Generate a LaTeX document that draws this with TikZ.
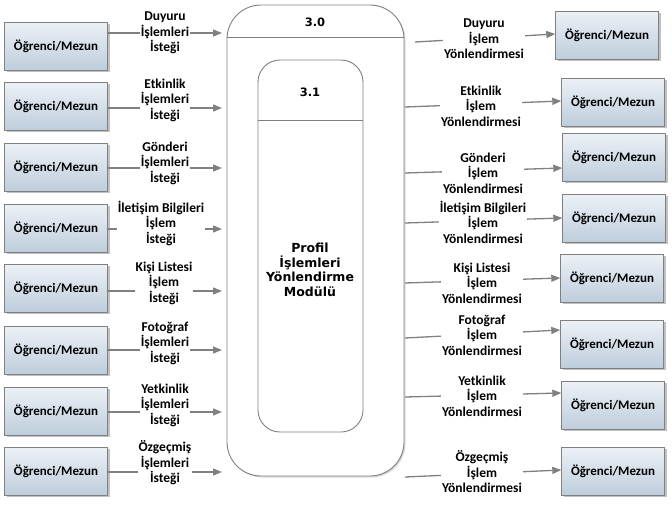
\documentclass[tikz,border=0pt]{standalone}
\usepackage{fontspec}
\setmainfont{Carlito}
\newfontfamily\procfont{DejaVu Sans}
\usetikzlibrary{arrows.meta,shadows}
\definecolor{linegray}{RGB}{128,128,128}
\definecolor{boxtop}{RGB}{236,241,246}
\definecolor{boxbottom}{RGB}{190,205,220}
\begin{document}
\begin{tikzpicture}[x=1pt,y=-1pt,
  actor/.style={draw=linegray,top color=boxtop,bottom color=boxbottom,minimum width=103pt,minimum height=48pt,
    font=\fontsize{13}{15}\selectfont\bfseries,
    drop shadow={shadow xshift=2pt,shadow yshift=-2pt,opacity=.35,fill=black!70}},
  proc/.style={draw=linegray,line width=.9pt,fill=white},
  proctext/.style={align=center,font=\procfont\bfseries\fontsize{11.5}{13.5}\selectfont},
  flow/.style={draw=linegray,line width=1.3pt,-{Triangle[length=9pt,width=7pt]}},
  flowlabel/.style={fill=white,inner sep=1pt,align=center,font=\fontsize{13.5}{15.5}\selectfont\bfseries}]

\useasboundingbox (0,0) rectangle (672,507);

% process 3.0 and 3.1
\draw (315.5,240.5) node(MAIN)[proc,minimum width=177pt,minimum height=471pt,rounded corners=34pt,
  drop shadow={shadow xshift=1.5pt,shadow yshift=-1.5pt,opacity=.3}]{};
\draw[linegray,line width=.9pt] (MAIN.west |- 0,37) -- (MAIN.east |- 0,37);
\draw (310.5,246) node(SUB)[proc,minimum width=105pt,minimum height=372pt,rounded corners=22pt]{};
\draw[linegray,line width=.9pt] (SUB.west |- 0,120) -- (SUB.east |- 0,120);
\draw (315,22) node(NUMMAIN)[proctext]{3.0};
\draw (310,92) node(NUMSUB)[proctext]{3.1};
\draw (310,270) node(NAMESUB)[proctext,font=\procfont\bfseries\fontsize{12.5}{14.5}\selectfont]{Profil\\İşlemleri\\Yönlendirme\\Modülü};

% sources
\draw (56,46) node(L1)[actor]{Öğrenci/Mezun};
\draw (56,106) node(L2)[actor]{Öğrenci/Mezun};
\draw (56,167) node(L3)[actor]{Öğrenci/Mezun};
\draw (56,228) node(L4)[actor]{Öğrenci/Mezun};
\draw (56,288) node(L5)[actor]{Öğrenci/Mezun};
\draw (56,350) node(L6)[actor]{Öğrenci/Mezun};
\draw (56,411) node(L7)[actor]{Öğrenci/Mezun};
\draw (56,471) node(L8)[actor]{Öğrenci/Mezun};

% sinks
\draw (607,35) node(R1)[actor]{Öğrenci/Mezun};
\draw (613,102) node(R2)[actor]{Öğrenci/Mezun};
\draw (614,157) node(R3)[actor]{Öğrenci/Mezun};
\draw (614,218) node(R4)[actor]{Öğrenci/Mezun};
\draw (612,278) node(R5)[actor]{Öğrenci/Mezun};
\draw (612,344) node(R6)[actor]{Öğrenci/Mezun};
\draw (613,405) node(R7)[actor]{Öğrenci/Mezun};
\draw (613,471) node(R8)[actor]{Öğrenci/Mezun};

% arrow ends at the process
\coordinate (IN1) at (222,33);
\coordinate (IN2) at (222,108);
\coordinate (IN3) at (222,168);
\coordinate (IN4) at (222,229);
\coordinate (IN5) at (222,291);
\coordinate (IN6) at (222,350);
\coordinate (IN7) at (222,412);
\coordinate (IN8) at (222,472);
\coordinate (OUT1) at (415,42);
\coordinate (OUT2) at (405,107);
\coordinate (OUT3) at (405,173);
\coordinate (OUT4) at (405,223);
\coordinate (OUT5) at (405,283);
\coordinate (OUT6) at (405,338);
\coordinate (OUT7) at (405,397);
\coordinate (OUT8) at (405,477);

\draw[flow] (L1.east |- IN1) -- (IN1);
\draw[flow] (L2.east |- IN2) -- (IN2);
\draw[flow] (L3.east |- IN3) -- (IN3);
\draw[flow] (L4.east |- IN4) -- (IN4);
\draw[flow] (L5.east |- IN5) -- (IN5);
\draw[flow] (L6.east |- IN6) -- (IN6);
\draw[flow] (L7.east |- IN7) -- (IN7);
\draw[flow] (L8.east |- IN8) -- (IN8);

\draw[flow] (OUT1) -- ([yshift=1pt]R1.west);
\draw[flow] (OUT2) -- ([yshift=1pt]R2.west);
\draw[flow] (OUT3) -- ([yshift=-11pt]R3.west);
\draw[flow] (OUT4) -- (R4.west);
\draw[flow] (OUT5) -- (R5.west);
\draw[flow] (OUT6) -- ([yshift=14pt]R6.west);
\draw[flow] (OUT7) -- ([yshift=12pt]R7.west);
\draw[flow] (OUT8) -- ([yshift=1pt]R8.west);

% flow labels
\draw (165,33) node(IL1)[flowlabel]{Duyuru\\İşlemleri\\İsteği};
\draw (165,100) node(IL2)[flowlabel]{Etkinlik\\İşlemleri\\İsteği};
\draw (165,163) node(IL3)[flowlabel]{Gönderi\\İşlemleri\\İsteği};
\draw (161,223) node(IL4)[flowlabel]{İletişim Bilgileri\\İşlem\\İsteği};
\draw (164,283) node(IL5)[flowlabel]{Kişi Listesi\\İşlem\\İsteği};
\draw (165,343) node(IL6)[flowlabel]{Fotoğraf\\İşlemleri\\İsteği};
\draw (165,405) node(IL7)[flowlabel]{Yetkinlik\\İşlemleri\\İsteği};
\draw (165,463) node(IL8)[flowlabel]{Özgeçmiş\\İşlemleri\\İsteği};

\draw (484,39) node(OL1)[flowlabel]{Duyuru\\İşlem\\Yönlendirmesi};
\draw (481,106) node(OL2)[flowlabel]{Etkinlik\\İşlem\\Yönlendirmesi};
\draw (483,173) node(OL3)[flowlabel]{Gönderi\\İşlem\\Yönlendirmesi};
\draw (483,222) node(OL4)[flowlabel]{İletişim Bilgileri\\İşlem\\Yönlendirmesi};
\draw (482,283) node(OL5)[flowlabel]{Kişi Listesi\\İşlem\\Yönlendirmesi};
\draw (482,335) node(OL6)[flowlabel]{Fotoğraf\\İşlem\\Yönlendirmesi};
\draw (482,396) node(OL7)[flowlabel]{Yetkinlik\\İşlem\\Yönlendirmesi};
\draw (482,472) node(OL8)[flowlabel]{Özgeçmiş\\İşlem\\Yönlendirmesi};

\end{tikzpicture}
\end{document}
